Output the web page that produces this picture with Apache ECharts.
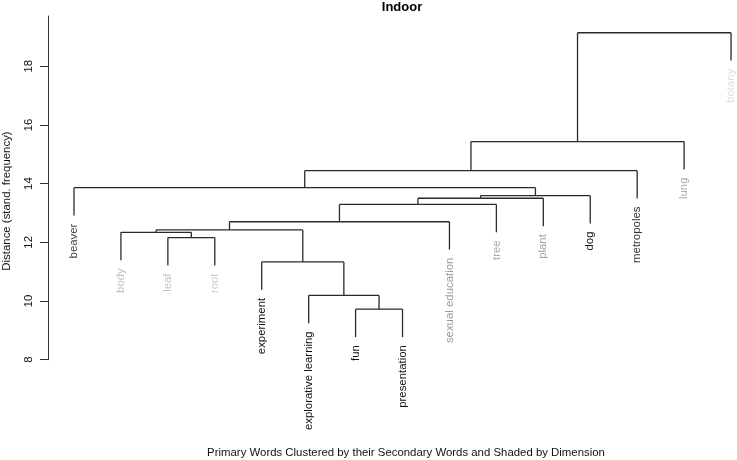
<!DOCTYPE html>
<html>
<head>
<meta charset="utf-8">
<script src="https://cdn.jsdelivr.net/npm/echarts@6/dist/echarts.min.js"></script>
<style>
    html, body { margin: 0; padding: 0; background: #fff; }
    #chart { width: 737px; height: 460px; }
</style>
</head>
<body>
<div id="chart"></div>
<script>
// leaves in plotting order
const leafLabels = ['beaver', 'body', 'leaf', 'root', 'experiment', 'explorative learning', 'fun',
    'presentation', 'sexual education', 'tree', 'plant', 'dog', 'metropoles', 'lung', 'botany'];
// shade of each label (dimension)
const leafColors = ['#444444', '#bdbdbd', '#c4c4c4', '#cccccc', '#111111', '#111111', '#111111',
    '#111111', '#9a9a9a', '#a8a8a8', '#a0a0a0', '#111111', '#333333', '#adadad', '#dedede'];
// hclust-style merges: negative = leaf (1-based), positive = earlier merge
const mergeLeft  = [-7, -6, -5, -3, -2, 5, 6, 7, 8, 9, -1, 11, 12, 13];
const mergeRight = [-8, 1, 2, -4, 4, 3, -9, -10, -11, -12, 10, -13, -14, -15];
const mergeHeight = [9.72, 10.19, 11.33, 12.16, 12.34, 12.42, 12.70, 13.29, 13.50, 13.59, 13.86, 14.44, 15.43, 19.14];
const hang = 0.95;
const yTicks = [8, 10, 12, 14, 16, 18];

// build segments from the merge table
const nodeX = [];
const segments = [];   // [x1, y1, x2, y2]
const leafEnds = [];   // [x, y, index]
const childPos = (id, parentH) => {
    if (id < 0) {
        const x = -id;
        segments.push([x, parentH, x, parentH - hang]);
        leafEnds.push([x, parentH - hang, -id - 1]);
        return x;
    }
    const x = nodeX[id - 1];
    segments.push([x, parentH, x, mergeHeight[id - 1]]);
    return x;
};
mergeHeight.forEach((h, i) => {
    const xl = childPos(mergeLeft[i], h);
    const xr = childPos(mergeRight[i], h);
    segments.push([xl, h, xr, h]);
    nodeX.push((xl + xr) / 2);
});

const chart = echarts.init(document.getElementById('chart'));
const font = '"Liberation Sans", Arial, Helvetica, sans-serif';

chart.setOption({
    animation: false,
    grid: { left: 48, right: 0, top: 16, bottom: 100.3 },
    xAxis: {
        type: 'value', min: 0.446, max: 15.127, show: false
    },
    yAxis: {
        type: 'value', min: 8, max: 19.71,
        splitLine: { show: false },
        axisLine: { show: true, lineStyle: { color: '#333', width: 1 } },
        axisTick: { show: true, length: 8, customValues: yTicks, lineStyle: { color: '#333' } },
        axisLabel: {
            customValues: yTicks, rotate: 90, margin: 14,
            color: '#111', fontSize: 11.4, fontFamily: font
        }
    },
    graphic: [
        {
            type: 'text', x: 402, y: 7,
            style: { text: 'Indoor', font: 'bold 13px ' + font, fill: '#000', align: 'center', verticalAlign: 'middle' }
        },
        {
            type: 'text', x: 406, y: 453,
            style: { text: 'Primary Words Clustered by their Secondary Words and Shaded by Dimension',
                font: '11.4px ' + font, fill: '#111', align: 'center', verticalAlign: 'middle' }
        },
        {
            type: 'text', x: 7, y: 201, rotation: Math.PI / 2,
            style: { text: 'Distance (stand. frequency)', font: '11.4px ' + font, fill: '#111',
                align: 'center', verticalAlign: 'middle' }
        }
    ],
    series: [
        {
            type: 'custom',
            coordinateSystem: 'cartesian2d',
            clip: false,
            data: segments,
            renderItem: (params, api) => {
                const p1 = api.coord([api.value(0), api.value(1)]);
                const p2 = api.coord([api.value(2), api.value(3)]);
                return {
                    type: 'line',
                    shape: { x1: p1[0], y1: p1[1], x2: p2[0], y2: p2[1] },
                    style: { stroke: '#2a2a2a', lineWidth: 1.3 }
                };
            }
        },
        {
            type: 'custom',
            coordinateSystem: 'cartesian2d',
            clip: false,
            data: leafEnds,
            renderItem: (params, api) => {
                const p = api.coord([api.value(0), api.value(1)]);
                const idx = api.value(2);
                return {
                    type: 'text',
                    x: p[0], y: p[1] + 8,
                    rotation: Math.PI / 2,
                    style: {
                        text: leafLabels[idx], fill: leafColors[idx],
                        font: '11.4px ' + font, align: 'right', verticalAlign: 'middle'
                    }
                };
            }
        }
    ]
});
</script>
</body>
</html>
